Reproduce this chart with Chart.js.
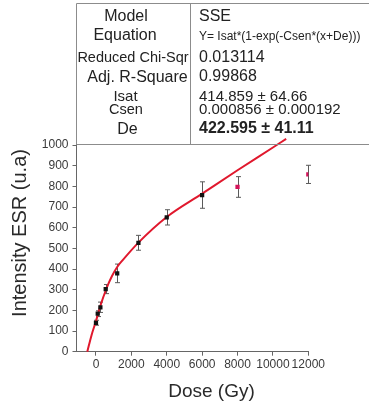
<!DOCTYPE html>
<html><head><meta charset="utf-8">
<script src="https://cdn.jsdelivr.net/npm/chart.js@4.4.1/dist/chart.umd.min.js"></script>
<style>html,body{margin:0;padding:0;background:#fff}#wrap{width:369px;height:407px;position:relative}</style>
</head><body><div id="wrap"><canvas id="c" width="369" height="407"></canvas></div>
<script>
// ---- data ----
const fitDose = [0, 100, 250, 550, 1200, 2400, 4000, 6000];
const fitIntensity = [140, 184, 215, 303, 379, 527, 650, 758];
const fitError = [12, 14, 25, 22, 45, 36, 37, 64];
const extraDose = [8000, 12000];
const extraIntensity = [797, 858];
const extraError = [50, 44];
const curveDose = [-490, -250, 0, 250, 600, 900, 1200, 1500, 2400, 4000, 6000, 8000, 10000, 10750];
const curveIntensity = [0, 80, 148, 222, 307, 365, 410, 442, 528, 652, 765, 878, 988, 1030];
const xTicks = [0, 2000, 4000, 6000, 8000, 10000, 12000];
const yTicks = [0, 100, 200, 300, 400, 500, 600, 700, 800, 900, 1000];
const tableLabels = ['Model', 'Equation', 'Reduced Chi-Sqr', 'Adj. R-Square', 'Isat', 'Csen', 'De'];
const tableValues = ['SSE', 'Y= Isat*(1-exp(-Csen*(x+De)))', '0.013114', '0.99868', '414.859 \u00b1 64.66', '0.000856 \u00b1 0.000192', '422.595 \u00b1 41.11'];
const xTitle = 'Dose (Gy)';
const yTitle = 'Intensity ESR (u.a)';

// ---- layout/style ----
const FONT = '"Liberation Sans", Arial, sans-serif';
const labelBase = [20.5, 40, 61.5, 81.5, 100.8, 113.5, 133.5];
const valueBase = [20.5, 39.5, 61.5, 81, 100.5, 113.5, 133];
const labelCx = [126, 125, 133, 137.5, 125.5, 126, 127.5];
const labelSize = [16, 16, 14.5, 16, 15, 14.5, 16];
const valueSize = [16, 12, 16, 16, 15, 15, 16];
const valueBold = [false, false, false, false, false, false, true];

const pts = (xs, ys) => xs.map((x, i) => ({x, y: ys[i]}));

const errorBars = {
  id: 'errorBars',
  beforeDatasetsDraw(chart) {
    const {ctx, scales: {x, y}} = chart;
    ctx.save();
    ctx.strokeStyle = '#5a5a5a';
    ctx.lineWidth = 1;
    const draw = (xs, ys, es) => xs.forEach((d, i) => {
      const px = Math.round(x.getPixelForValue(d)) + 0.5;
      const top = y.getPixelForValue(ys[i] + es[i]);
      const bot = y.getPixelForValue(ys[i] - es[i]);
      ctx.beginPath();
      ctx.moveTo(px, top); ctx.lineTo(px, bot);
      ctx.moveTo(px - 2.5, top); ctx.lineTo(px + 2.5, top);
      ctx.moveTo(px - 2.5, bot); ctx.lineTo(px + 2.5, bot);
      ctx.stroke();
    });
    draw(fitDose, fitIntensity, fitError);
    draw(extraDose, extraIntensity, extraError);
    ctx.restore();
  }
};

const tableAndTitles = {
  id: 'tableAndTitles',
  afterDraw(chart) {
    const {ctx, chartArea} = chart;
    ctx.save();
    ctx.strokeStyle = '#8c8c8c';
    ctx.lineWidth = 1;
    const L = 76.5, T = 3.5, B = chartArea.top + 0.5, D = 190.5;
    ctx.beginPath();
    ctx.moveTo(L, B); ctx.lineTo(L, T); ctx.lineTo(369, T);
    ctx.moveTo(L, B); ctx.lineTo(369, B);
    ctx.moveTo(D, T); ctx.lineTo(D, B);
    ctx.stroke();
    ctx.fillStyle = '#222';
    ctx.textBaseline = 'alphabetic';
    tableLabels.forEach((t, i) => {
      ctx.font = labelSize[i] + 'px ' + FONT;
      ctx.textAlign = 'center';
      ctx.fillText(t, labelCx[i], labelBase[i]);
    });
    tableValues.forEach((t, i) => {
      ctx.font = (valueBold[i] ? 'bold ' : '') + valueSize[i] + 'px ' + FONT;
      ctx.textAlign = 'left';
      ctx.fillText(t, 199, valueBase[i]);
    });
    // axis titles
    ctx.textBaseline = 'middle';
    ctx.fillStyle = '#2a2a2a';
    ctx.font = '19px ' + FONT;
    ctx.textAlign = 'center';
    ctx.fillText(xTitle, 211.5, 392);
    ctx.translate(20, 233);
    ctx.rotate(-Math.PI / 2);
    ctx.font = '20px ' + FONT;
    ctx.fillText(yTitle, 0, 0);
    ctx.restore();
  }
};

new Chart(document.getElementById('c'), {
  type: 'scatter',
  data: {
    datasets: [
      {data: pts(fitDose, fitIntensity), pointStyle: 'rect', pointRadius: 3, pointBorderWidth: 0, backgroundColor: '#111', borderColor: '#111'},
      {data: pts(extraDose, extraIntensity), pointStyle: 'rect', pointRadius: 3, pointBorderWidth: 0, backgroundColor: '#d4145a', borderColor: '#d4145a'},
      {type: 'line', data: pts(curveDose, curveIntensity), borderColor: '#e0182d', borderWidth: 2, pointRadius: 0, cubicInterpolationMode: 'monotone', fill: false, clip: false}
    ]
  },
  options: {
    responsive: false,
    animation: false,
    devicePixelRatio: 1,
    layout: {padding: {left: 0, right: 60.7, top: 144, bottom: 0}},
    plugins: {legend: {display: false}, tooltip: {enabled: false}},
    scales: {
      x: {
        type: 'linear', min: -1100, max: 12000,
        afterBuildTicks: s => { s.ticks = xTicks.map(v => ({value: v})); },
        afterFit: s => { s.height = 55.3; },
        grid: {drawOnChartArea: false, drawTicks: true, tickLength: 4, color: '#666'},
        border: {display: true, color: '#666', width: 1},
        ticks: {color: '#3a3a3a', font: {family: FONT, size: 12}, padding: 2, maxRotation: 0, autoSkip: false, callback: v => String(v)}
      },
      y: {
        type: 'linear', min: 0, max: 1005,
        afterBuildTicks: s => { s.ticks = yTicks.map(v => ({value: v})); },
        afterFit: s => { s.width = 76.5; },
        grid: {drawOnChartArea: false, drawTicks: true, tickLength: 4, color: '#666'},
        border: {display: true, color: '#666', width: 1},
        ticks: {color: '#3a3a3a', font: {family: FONT, size: 12}, padding: 4, autoSkip: false, callback: v => String(v)}
      }
    }
  },
  plugins: [errorBars, tableAndTitles]
});
</script></body></html>
